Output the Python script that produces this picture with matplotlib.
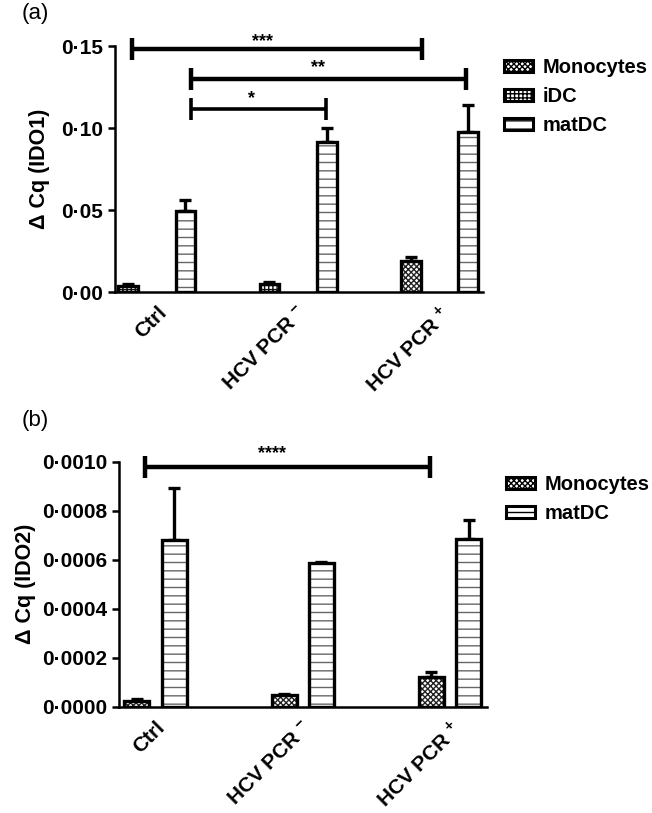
import numpy as np
import matplotlib
matplotlib.use('Agg')
import matplotlib.pyplot as plt
from matplotlib.patches import Patch
from matplotlib.ticker import FuncFormatter

plt.rcParams['font.family'] = ['Liberation Sans', 'DejaVu Sans']
plt.rcParams['mathtext.fontset'] = 'custom'
plt.rcParams['mathtext.rm'] = 'Liberation Sans:bold'
plt.rcParams['mathtext.bf'] = 'Liberation Sans:bold'
plt.rcParams['hatch.linewidth'] = 1.0

groups = ['Ctrl', r'HCV PCR $^{\mathbf{-}}$', r'HCV PCR $^{\mathbf{+}}$']

# panel (a) IDO1
ido1_mono = [np.nan, np.nan, 0.0191]
ido1_mono_err = [0, 0, 0.0020]
ido1_idc = [0.0037, 0.0047, np.nan]
ido1_idc_err = [0.0012, 0.0013, 0]
ido1_matdc = [0.0494, 0.0917, 0.0978]
ido1_matdc_err = [0.0066, 0.0085, 0.0165]
ido1_sig = [(-0.175, 1.876, 0.148, '***', 0.751, 0.1524),
            (0.242, 2.187, 0.130, '**', 1.140, 0.1366),
            (0.242, 1.197, 0.1116, '*', 0.667, 0.1177)]

# panel (b) IDO2
ido2_mono = [0.0000233, 0.0000478, 0.000122]
ido2_mono_err = [0.000008, 0.000003, 0.000018]
ido2_matdc = [0.000680, 0.000588, 0.000683]
ido2_matdc_err = [0.000211, 0.000003, 0.000079]
ido2_sig = [(-0.071, 1.864, 0.00098, '****', 0.79, 0.001035)]

styles = {
    'Monocytes': dict(hatch='xxxxxx', hcol='#222222'),
    'iDC': dict(hatch='++++', hcol='#111111'),
    'matDC': dict(hatch='--', hcol='#666666'),
}


def draw_bars(ax, x, vals, errs, name, width):
    st = styles[name]
    vals = np.array(vals, dtype=float)
    ok = ~np.isnan(vals)
    x = np.array(x)[ok]
    v = vals[ok]
    e = np.array(errs, dtype=float)[ok]
    ax.errorbar(x, v, yerr=[np.zeros_like(e), e], fmt='none', ecolor='black',
                elinewidth=2.4, capsize=4.5, capthick=2.4, zorder=2)
    ax.bar(x, v, width, color='white', edgecolor=st['hcol'], hatch=st['hatch'],
           linewidth=0, zorder=3)
    ax.bar(x, v, width, fill=False, edgecolor='black', linewidth=2.4, zorder=4)


def sig_bar(ax, x1, x2, y, stars, xs, ys, lw):
    ax.plot([x1, x2], [y, y], color='black', lw=lw, clip_on=False, zorder=5,
            solid_capstyle='butt')
    ax.plot([x1, x2], [y, y], ls='', marker='|', ms=16, mew=lw, color='black',
            clip_on=False, zorder=5)
    ax.text(xs, ys, stars, ha='center', va='center', fontsize=13, fontweight='bold',
            clip_on=False)


def style_axis(ax, ndec):
    for s in ['top', 'right']:
        ax.spines[s].set_visible(False)
    for s in ['left', 'bottom']:
        ax.spines[s].set_linewidth(1.8)
    ax.tick_params(axis='y', width=1.8, length=5, labelsize=15)
    ax.tick_params(axis='x', length=0, labelsize=15, pad=8)
    ax.yaxis.set_major_formatter(FuncFormatter(
        lambda v, p: ('%.*f' % (ndec, v)).replace('.', '\u00b7')))
    for lab in ax.get_yticklabels():
        lab.set_fontweight('bold')
    ax.set_xticks(range(len(groups)))
    ax.set_xticklabels(groups, rotation=45, ha='right', rotation_mode='anchor',
                       fontweight='bold')


fig = plt.figure(figsize=(6.52, 8.13), dpi=100)

# (a)
ax1 = fig.add_axes([115 / 652, (813 - 292) / 813, 368 / 652, 246 / 813])
xg = np.arange(3)
draw_bars(ax1, xg - 0.203, ido1_mono, ido1_mono_err, 'Monocytes', 0.14)
draw_bars(ax1, xg - 0.203, ido1_idc, ido1_idc_err, 'iDC', 0.14)
draw_bars(ax1, xg + 0.203, ido1_matdc, ido1_matdc_err, 'matDC', 0.14)
ax1.set_xlim(-0.295, 2.307)
ax1.set_ylim(0, 0.15)
ax1.set_yticks([0, 0.05, 0.10, 0.15])
style_axis(ax1, 2)
ax1.set_ylabel('\u0394 Cq (IDO1)', fontsize=15.5, fontweight='bold', labelpad=8)
for i, (x1, x2, y, s, xs, ys) in enumerate(ido1_sig):
    sig_bar(ax1, x1, x2, y, s, xs, ys, 3.2 if i < 2 else 2.6)

h1 = [Patch(facecolor='white', edgecolor='black', hatch=styles[n]['hatch'], linewidth=2.2, label=n)
      for n in ['Monocytes', 'iDC', 'matDC']]
fig.legend(handles=h1, loc='upper left', bbox_to_anchor=(496 / 652, 1 - 50 / 813),
           frameon=False, prop={'weight': 'bold', 'size': 14.5},
           handlelength=1.45, handleheight=0.5, handletextpad=0.45, labelspacing=0.5,
           borderaxespad=0)

# (b)
ax2 = fig.add_axes([119 / 652, (813 - 706.7) / 813, 368 / 652, 245 / 813])
draw_bars(ax2, xg - 0.126, ido2_mono, ido2_mono_err, 'Monocytes', 0.17)
draw_bars(ax2, xg + 0.126, ido2_matdc, ido2_matdc_err, 'matDC', 0.17)
ax2.set_xlim(-0.248, 2.251)
ax2.set_ylim(0, 0.001)
ax2.set_yticks(np.arange(0, 0.00101, 0.0002))
style_axis(ax2, 4)
ax2.set_ylabel('\u0394 Cq (IDO2)', fontsize=15.5, fontweight='bold', labelpad=4)
for (x1, x2, y, s, xs, ys) in ido2_sig:
    sig_bar(ax2, x1, x2, y, s, xs, ys, 3.2)

h2 = [Patch(facecolor='white', edgecolor='black', hatch=styles[n]['hatch'], linewidth=2.2, label=n)
      for n in ['Monocytes', 'matDC']]
fig.legend(handles=h2, loc='upper left', bbox_to_anchor=(498 / 652, 1 - 467 / 813),
           frameon=False, prop={'weight': 'bold', 'size': 14.5},
           handlelength=1.45, handleheight=0.5, handletextpad=0.45, labelspacing=0.5,
           borderaxespad=0)

fig.text(22 / 652, 1 - 14 / 813, '(a)', fontsize=16, va='center', ha='left')
fig.text(22 / 652, 1 - 420 / 813, '(b)', fontsize=16, va='center', ha='left')

fig.savefig('out.png', dpi=100)
